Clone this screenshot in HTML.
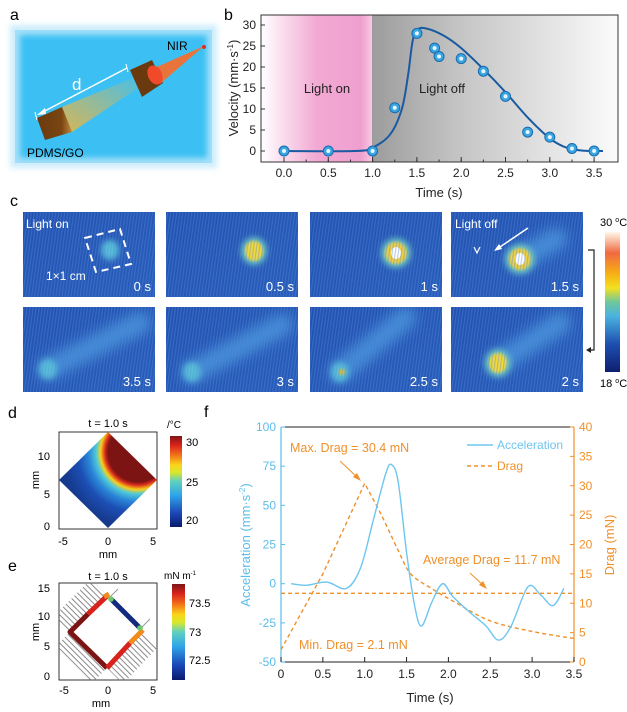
<!DOCTYPE html>
<html><head><meta charset="utf-8"><style>
html,body{margin:0;padding:0;background:#fff}
svg{display:block;font-family:"Liberation Sans",Arial,sans-serif}
</style></head><body>
<svg id="s" width="627" height="712" viewBox="0 0 627 712" xmlns="http://www.w3.org/2000/svg">
<defs>
<linearGradient id="pink" x1="0" x2="1" y1="0" y2="0"><stop offset="0" stop-color="#fff"/><stop offset="0.5" stop-color="#f2a9d3"/><stop offset="0.9" stop-color="#ef9fcf"/><stop offset="1" stop-color="#f7c8e3"/></linearGradient>
<linearGradient id="gray" x1="0" x2="1" y1="0" y2="0"><stop offset="0" stop-color="#9c9c9c"/><stop offset="0.35" stop-color="#c4c4c4"/><stop offset="1" stop-color="#fbfbfb"/></linearGradient>
<linearGradient id="jet" x1="0" x2="0" y1="1" y2="0"><stop offset="0" stop-color="#0a1a6e"/><stop offset="0.15" stop-color="#1b45b5"/><stop offset="0.35" stop-color="#2fa5e8"/><stop offset="0.5" stop-color="#5fd0c0"/><stop offset="0.6" stop-color="#d8e82a"/><stop offset="0.68" stop-color="#fbd51a"/><stop offset="0.8" stop-color="#f26a1a"/><stop offset="0.9" stop-color="#d8231c"/><stop offset="1" stop-color="#7d1515"/></linearGradient>
<linearGradient id="therm" x1="0" x2="0" y1="1" y2="0"><stop offset="0" stop-color="#0d1f6e"/><stop offset="0.2" stop-color="#1e4fb0"/><stop offset="0.4" stop-color="#4ab3e0"/><stop offset="0.5" stop-color="#6fc79a"/><stop offset="0.6" stop-color="#f4e020"/><stop offset="0.7" stop-color="#f7b015"/><stop offset="0.85" stop-color="#f06a40"/><stop offset="1" stop-color="#fff8ea"/></linearGradient>
<radialGradient id="dheat" gradientUnits="userSpaceOnUse" cx="138" cy="452" r="75"><stop offset="0" stop-color="#7d1414"/><stop offset="0.4" stop-color="#7d1414"/><stop offset="0.44" stop-color="#d82a1c"/><stop offset="0.5" stop-color="#f8cf1c"/><stop offset="0.56" stop-color="#4fc9d8"/><stop offset="0.66" stop-color="#2a86d8"/><stop offset="0.8" stop-color="#1c4fb4"/><stop offset="1" stop-color="#163a8e"/></radialGradient>
<linearGradient id="tbg" x1="0" y1="0" x2="1" y2="1"><stop offset="0" stop-color="#2152b2"/><stop offset="1" stop-color="#275cba"/></linearGradient>
<pattern id="stripe" width="3" height="6" patternUnits="userSpaceOnUse" patternTransform="rotate(8)"><rect width="1.2" height="6" fill="#5a8ad8" opacity="0.4"/></pattern>
<pattern id="hatch" width="4" height="4" patternUnits="userSpaceOnUse" patternTransform="rotate(45)"><rect width="4" height="1" fill="#777"/></pattern>
<filter id="bl3" x="-100%" y="-100%" width="300%" height="300%"><feGaussianBlur stdDeviation="3"/></filter>
<filter id="bl6" filterUnits="userSpaceOnUse" x="0" y="150" width="627" height="300"><feGaussianBlur stdDeviation="6"/></filter>
<filter id="bl1" x="-50%" y="-50%" width="200%" height="200%"><feGaussianBlur stdDeviation="1.2"/></filter>
<clipPath id="dclip"><polygon points="108,432 157,480 108,528 59,480"/></clipPath>
<clipPath id="eclip"><rect x="59" y="583" width="98" height="97"/></clipPath>
<linearGradient id="beam" x1="0" y1="1" x2="1" y2="0"><stop offset="0" stop-color="#f4b43a"/><stop offset="1" stop-color="#f4b43a" stop-opacity="0.1"/></linearGradient>
<linearGradient id="brown" x1="0" x2="1"><stop offset="0" stop-color="#6a3a0e"/><stop offset="0.7" stop-color="#7a4512"/><stop offset="1" stop-color="#c08a3c"/></linearGradient>
</defs>

<!-- Panel a -->
<text x="10" y="20" font-size="16">a</text>
<rect x="15" y="30" width="197" height="133" fill="#3cc0f3"/>
<rect x="15" y="30" width="197" height="133" fill="none" stroke="#bfe8fb" stroke-width="10" opacity="0.8" filter="url(#bl3)"/>
<polygon points="62,107 133,78 138,88 72,132" fill="url(#beam)" opacity="0.85"/>
<polygon points="37,118 62,107 72,132 45,140" fill="url(#brown)"/>
<polygon points="130,70 152,60 163,83 142,97" fill="#6a3a0e"/>
<polygon points="150,70 204,46 160,84" fill="#e8743c"/>
<ellipse cx="155" cy="75" rx="7" ry="10" fill="#f04a2a" transform="rotate(-25 155 75)"/>
<circle cx="204" cy="47" r="2" fill="#e82a1a"/>
<line x1="127" y1="68" x2="39" y2="114" stroke="#fff" stroke-width="1.5"/>
<polygon points="37,115 45,108 46,114" fill="#fff"/>
<line x1="126" y1="64" x2="128" y2="72" stroke="#fff" stroke-width="1"/>
<line x1="35" y1="112" x2="37" y2="120" stroke="#fff" stroke-width="1"/>
<text x="72" y="90" font-size="17" fill="#fff">d</text>
<text x="167" y="50" font-size="12">NIR</text>
<text x="27" y="157" font-size="12">PDMS/GO</text>

<!-- Panel b -->
<text x="224" y="20" font-size="16">b</text>
<rect x="261" y="15" width="111" height="147" fill="url(#pink)"/>
<rect x="372" y="15" width="246" height="147" fill="url(#gray)"/>
<rect x="261" y="15" width="357" height="147" fill="none" stroke="#333" stroke-width="1"/>
<text x="327" y="93" font-size="13" text-anchor="middle" fill="#222">Light on</text>
<text x="442" y="93" font-size="13" text-anchor="middle" fill="#222">Light off</text>
<g id="bticks" font-size="12" fill="#222"></g>
<text transform="translate(238,88) rotate(-90)" font-size="13" text-anchor="middle" fill="#222">Velocity (mm·s<tspan font-size="8" dy="-5">-1</tspan><tspan dy="5">)</tspan></text>
<text x="439" y="197" font-size="13" text-anchor="middle" fill="#222">Time (s)</text>
<path id="bcurve" fill="none" stroke="#1a5aa0" stroke-width="2"/>
<g id="bpts"></g>

<!-- Panel c -->
<text x="10" y="206" font-size="16">c</text>
<g id="cimgs"></g>
<rect x="605" y="232" width="15" height="140" fill="url(#therm)"/>
<text x="600" y="226" font-size="11">30 <tspan font-size="7" dy="-4">o</tspan><tspan dy="4">C</tspan></text>
<text x="600" y="387" font-size="11">18 <tspan font-size="7" dy="-4">o</tspan><tspan dy="4">C</tspan></text>
<polyline points="588,250 594,250 594,350 588,350" fill="none" stroke="#222" stroke-width="1.2"/>
<polygon points="586,350 591,347 591,353" fill="#222"/>

<!-- Panel d -->
<text x="8" y="418" font-size="16">d</text>
<text x="108" y="427" font-size="11" text-anchor="middle">t = 1.0 s</text>
<rect x="59" y="432" width="98" height="97" fill="#fff" stroke="#333"/>
<rect x="50" y="425" width="115" height="110" fill="url(#dheat)" clip-path="url(#dclip)"/>
<text x="50" y="460" font-size="11" text-anchor="end">10</text>
<text x="50" y="498" font-size="11" text-anchor="end">5</text>
<text x="50" y="530" font-size="11" text-anchor="end">0</text>
<text x="63" y="545" font-size="11" text-anchor="middle">-5</text>
<text x="108" y="545" font-size="11" text-anchor="middle">0</text>
<text x="153" y="545" font-size="11" text-anchor="middle">5</text>
<text x="108" y="558" font-size="11" text-anchor="middle">mm</text>
<text transform="translate(39,480) rotate(-90)" font-size="11" text-anchor="middle">mm</text>
<rect x="170" y="436" width="12" height="91" fill="url(#jet)"/>
<text x="167" y="428" font-size="10">/°C</text>
<text x="186" y="446" font-size="11">30</text>
<text x="186" y="486" font-size="11">25</text>
<text x="186" y="524" font-size="11">20</text>

<!-- Panel e -->
<text x="8" y="571" font-size="16">e</text>
<text x="108" y="580" font-size="11" text-anchor="middle">t = 1.0 s</text>
<rect x="59" y="583" width="98" height="97" fill="#fff" stroke="#333"/>
<g clip-path="url(#eclip)" opacity="0.85">
<polygon points="70,632 107,595 91,579 54,616" fill="url(#hatch)"/>
<polygon points="70,632 107,668 91,684 54,648" fill="url(#hatch)"/>
<polygon points="107,668 142,631 158,647 123,684" fill="url(#hatch)"/>
</g>
<line x1="110" y1="597" x2="118" y2="589" stroke="#999" stroke-width="1"/>
<line x1="141" y1="628" x2="150" y2="619" stroke="#999" stroke-width="1"/>
<polyline points="107,668 70,632 88,614" fill="none" stroke="#7d1414" stroke-width="5" stroke-linejoin="round"/>
<line x1="88" y1="614" x2="107" y2="596" stroke="#d8231c" stroke-width="5"/>
<line x1="104" y1="597" x2="109" y2="594" stroke="#f28a1c" stroke-width="5"/>
<line x1="111" y1="599" x2="140" y2="628" stroke="#132a7e" stroke-width="5"/>
<line x1="107" y1="668" x2="130" y2="643" stroke="#d8231c" stroke-width="5"/>
<line x1="130" y1="643" x2="143" y2="630" stroke="#f28a1c" stroke-width="5"/>
<circle cx="111" cy="599" r="2.8" fill="#6fc76a"/><circle cx="140" cy="628" r="2.8" fill="#6fc76a"/>
<text x="50" y="592" font-size="11" text-anchor="end">15</text>
<text x="50" y="620" font-size="11" text-anchor="end">10</text>
<text x="50" y="650" font-size="11" text-anchor="end">5</text>
<text x="50" y="680" font-size="11" text-anchor="end">0</text>
<text x="64" y="694" font-size="11" text-anchor="middle">-5</text>
<text x="108" y="694" font-size="11" text-anchor="middle">0</text>
<text x="153" y="694" font-size="11" text-anchor="middle">5</text>
<text x="101" y="707" font-size="11" text-anchor="middle">mm</text>
<text transform="translate(39,632) rotate(-90)" font-size="11" text-anchor="middle">mm</text>
<rect x="172" y="584" width="13" height="96" fill="url(#jet)"/>
<text x="164" y="579" font-size="10">mN m<tspan font-size="6" dy="-4">-1</tspan></text>
<text x="189" y="607" font-size="11">73.5</text>
<text x="189" y="636" font-size="11">73</text>
<text x="189" y="664" font-size="11">72.5</text>

<!-- Panel f -->
<text x="204" y="417" font-size="16">f</text>
<line x1="281" y1="427" x2="574" y2="427" stroke="#222"/>
<line x1="281" y1="662" x2="574" y2="662" stroke="#222"/>
<line x1="281" y1="427" x2="281" y2="662" stroke="#5bbdea" stroke-width="1.2"/>
<line x1="574" y1="427" x2="574" y2="662" stroke="#f0902a" stroke-width="1.2"/>
<g id="fticks" font-size="12"></g>
<text transform="translate(250,545) rotate(-90)" font-size="13" text-anchor="middle" fill="#5bbdea">Acceleration (mm·s<tspan font-size="8" dy="-5">-2</tspan><tspan dy="5">)</tspan></text>
<text transform="translate(614,545) rotate(-90)" font-size="13" text-anchor="middle" fill="#f0902a">Drag (mN)</text>
<text x="430" y="702" font-size="13" text-anchor="middle" fill="#222">Time (s)</text>
<line x1="281" y1="593.3" x2="574" y2="593.3" stroke="#f0902a" stroke-width="1.4" stroke-dasharray="4,3"/>
<path id="fdrag" fill="none" stroke="#f0902a" stroke-width="1.4" stroke-dasharray="4,3"/>
<path id="facc" fill="none" stroke="#6ec6ef" stroke-width="1.4"/>
<text x="290" y="452" font-size="12.5" fill="#f0902a">Max. Drag = 30.4 mN</text>
<line x1="340" y1="461" x2="358" y2="478" stroke="#f0902a"/><polygon points="361,481 353,477 357,473" fill="#f0902a"/>
<text x="423" y="564" font-size="12.5" fill="#f0902a">Average Drag = 11.7 mN</text>
<line x1="470" y1="573" x2="484" y2="586" stroke="#f0902a"/><polygon points="487,589 479,585 483,581" fill="#f0902a"/>
<text x="299" y="649" font-size="12.5" fill="#f0902a">Min. Drag = 2.1 mN</text>
<line x1="467" y1="445" x2="493" y2="445" stroke="#6ec6ef" stroke-width="1.4"/>
<text x="497" y="449" font-size="12" fill="#6ec6ef">Acceleration</text>
<line x1="467" y1="466" x2="493" y2="466" stroke="#f0902a" stroke-width="1.4" stroke-dasharray="4,3"/>
<text x="497" y="470" font-size="12" fill="#f0902a">Drag</text>
</svg>
<script>
var NS="http://www.w3.org/2000/svg",S=document.getElementById('s');
function el(t,a,p){var e=document.createElementNS(NS,t);for(var k in a)e.setAttribute(k,a[k]);(p||S).appendChild(e);return e;}
function cr(p){var d="M"+p[0][0]+","+p[0][1];for(var i=0;i<p.length-1;i++){var p0=p[i-1]||p[i],p1=p[i],p2=p[i+1],p3=p[i+2]||p2;
d+=" C"+(p1[0]+(p2[0]-p0[0])/6)+","+(p1[1]+(p2[1]-p0[1])/6)+" "+(p2[0]-(p3[0]-p1[0])/6)+","+(p2[1]-(p3[1]-p1[1])/6)+" "+p2[0]+","+p2[1];}return d;}
// b
var g=document.getElementById('bticks');
function BX(t){return 284+88.6*t}function BY(v){return 151-4.2*v}
for(var v=0;v<=30;v+=5){el('line',{x1:261,x2:265,y1:BY(v),y2:BY(v),stroke:'#333'});var t=el('text',{x:256,y:BY(v)+4,'text-anchor':'end'},g);t.textContent=v;}
for(var i=0;i<=7;i++){var x=BX(i*0.5);el('line',{x1:x,x2:x,y1:162,y2:157,stroke:'#333'});var t=el('text',{x:x,y:177,'text-anchor':'middle'},g);t.textContent=(i*0.5).toFixed(1);}
for(var i=0;i<=14;i++){var x=BX(i*0.25);el('line',{x1:x,x2:x,y1:162,y2:159.5,stroke:'#333'});}
var bc=[[0,0],[0.8,0],[1.0,0.8],[1.2,4],[1.33,10],[1.4,18],[1.45,26],[1.5,28.8],[1.6,29.2],[1.8,27.5],[2.0,24.5],[2.25,19.5],[2.5,14],[2.75,8],[3.0,3],[3.2,0.7],[3.4,0.05],[3.6,0]].map(function(p){return[BX(p[0]),BY(p[1])]});
document.getElementById('bcurve').setAttribute('d',cr(bc));
[[0,0],[0.5,0],[1,0],[1.25,10.3],[1.5,28],[1.7,24.5],[1.75,22.5],[2,22],[2.25,19],[2.5,13],[2.75,4.5],[3,3.3],[3.25,0.6],[3.5,0]].forEach(function(p){
var gp=document.getElementById('bpts');el('circle',{cx:BX(p[0]),cy:BY(p[1]),r:5,fill:'#3aa6e0',stroke:'#1a6ab0','stroke-width':1},gp);el('circle',{cx:BX(p[0]),cy:BY(p[1]),r:2,fill:'#e8f6ff'},gp);});
// f
var fg=document.getElementById('fticks');
function FX(t){return 281+83.7*t}function FL(a){return 583.7-1.567*a}function FR(d){return 662-5.875*d}
for(var a=-50;a<=100;a+=25){el('line',{x1:281,x2:285,y1:FL(a),y2:FL(a),stroke:'#5bbdea'});var t=el('text',{x:276,y:FL(a)+4,'text-anchor':'end',fill:'#5bbdea'},fg);t.textContent=a;}
for(var d=0;d<=40;d+=5){el('line',{x1:574,x2:570,y1:FR(d),y2:FR(d),stroke:'#f0902a'});var t=el('text',{x:579,y:FR(d)+4,fill:'#f0902a'},fg);t.textContent=d;}
for(var i=0;i<=7;i++){var x=FX(i*0.5);el('line',{x1:x,x2:x,y1:662,y2:657,stroke:'#222'});var t=el('text',{x:x,y:678,'text-anchor':'middle',fill:'#222'},fg);t.textContent=i==0?'0':(i*0.5).toFixed(1);}
var acc=[[0.12,0],[0.3,-1],[0.55,1],[0.78,-3],[0.95,10],[1.1,40],[1.25,70],[1.32,76],[1.4,65],[1.5,20],[1.6,-15],[1.68,-27],[1.8,-12],[1.93,0],[2.05,-8],[2.25,-18],[2.45,-27],[2.6,-36],[2.75,-27],[2.95,-2],[3.1,-7],[3.25,-14],[3.38,-3]].map(function(p){return[FX(p[0]),FL(p[1])]});
document.getElementById('facc').setAttribute('d',cr(acc));
var dr=[[0,2.1],[0.5,15],[1.0,30.4],[1.2,25],[1.4,19],[1.55,15],[1.8,12.5],[2.1,10],[2.5,7],[3.0,5.2],[3.5,4]].map(function(p){return[FX(p[0]),FR(p[1])]});
document.getElementById('fdrag').setAttribute('d',"M"+dr[0]+" L"+dr[1]+" L"+dr[2]+" "+cr(dr.slice(2)).replace(/^M[^ ]+/,''));
// c images
var cols=[23,166,310,451],rows=[212,307],cg=document.getElementById('cimgs');
var imgs=[
[0,0,'0 s',[110,250],'faint',null],[1,0,'0.5 s',[254,251],'yel',null],[2,0,'1 s',[396,253],'hot',null],[3,0,'1.5 s',[520,259],'hot',[556,239]],
[0,1,'3.5 s',[48,369],'faint',[140,323]],[1,1,'3 s',[192,372],'faint',[282,325]],[2,1,'2.5 s',[340,372],'faint2',[405,318]],[3,1,'2 s',[498,363],'yel',[560,323]]];
imgs.forEach(function(m){var x=cols[m[0]],y=rows[m[1]],w=132,h=85;
var cid='cc'+m[0]+m[1];var cp=el('clipPath',{id:cid},cg);el('rect',{x:x,y:y,width:w,height:h},cp);
var gg=el('g',{'clip-path':'url(#'+cid+')'},cg);
el('rect',{x:x,y:y,width:w,height:h,fill:'url(#tbg)'},gg);
if(m[5]){el('line',{x1:m[3][0],y1:m[3][1],x2:m[5][0],y2:m[5][1],stroke:'#4b9be0','stroke-width':22,'stroke-linecap':'round',filter:'url(#bl6)',opacity:0.75},gg);}
var c=m[3];
if(m[4]=='faint'){el('ellipse',{cx:c[0],cy:c[1],rx:9,ry:10,fill:'#56c0d8',filter:'url(#bl3)'},gg);}
if(m[4]=='faint2'){el('ellipse',{cx:c[0],cy:c[1],rx:9,ry:10,fill:'#56c0d8',filter:'url(#bl3)'},gg);el('circle',{cx:c[0]+2,cy:c[1],r:3,fill:'#e8c020',filter:'url(#bl1)'},gg);}
if(m[4]=='yel'){el('ellipse',{cx:c[0],cy:c[1],rx:13,ry:14,fill:'#6cc8c0',filter:'url(#bl3)'},gg);el('ellipse',{cx:c[0],cy:c[1],rx:9,ry:10,fill:'#f2d83a',filter:'url(#bl1)'},gg);}
if(m[4]=='hot'){el('ellipse',{cx:c[0],cy:c[1],rx:15,ry:15,fill:'#6cc8c0',filter:'url(#bl3)'},gg);el('ellipse',{cx:c[0],cy:c[1],rx:11,ry:11,fill:'#f0d040',filter:'url(#bl1)'},gg);el('ellipse',{cx:c[0],cy:c[1],rx:5,ry:6,fill:'#fff'},gg);}
el('rect',{x:x,y:y,width:w,height:h,fill:'url(#stripe)'},gg);
var t=el('text',{x:x+w-4,y:y+h-6,'font-size':13,'text-anchor':'end',fill:'#fff'},cg);t.textContent=m[2];});
var t=el('text',{x:26,y:228,'font-size':12,fill:'#fff'});t.textContent='Light on';
t=el('text',{x:46,y:280,'font-size':12,fill:'#fff'});t.textContent='1×1 cm';
t=el('text',{x:455,y:228,'font-size':12,fill:'#fff'});t.textContent='Light off';
el('polygon',{points:'85,238 120,229 131,264 96,272',fill:'none',stroke:'#fff','stroke-width':2,'stroke-dasharray':'7,5'});
el('line',{x1:528,y1:228,x2:497,y2:249,stroke:'#fff','stroke-width':1.5});el('polygon',{points:'494,251 499,244 502,249',fill:'#fff'});
el('polyline',{points:'474,247 477,253 480,247',fill:'none',stroke:'#fff','stroke-width':1.2});
</script>
</body></html>
